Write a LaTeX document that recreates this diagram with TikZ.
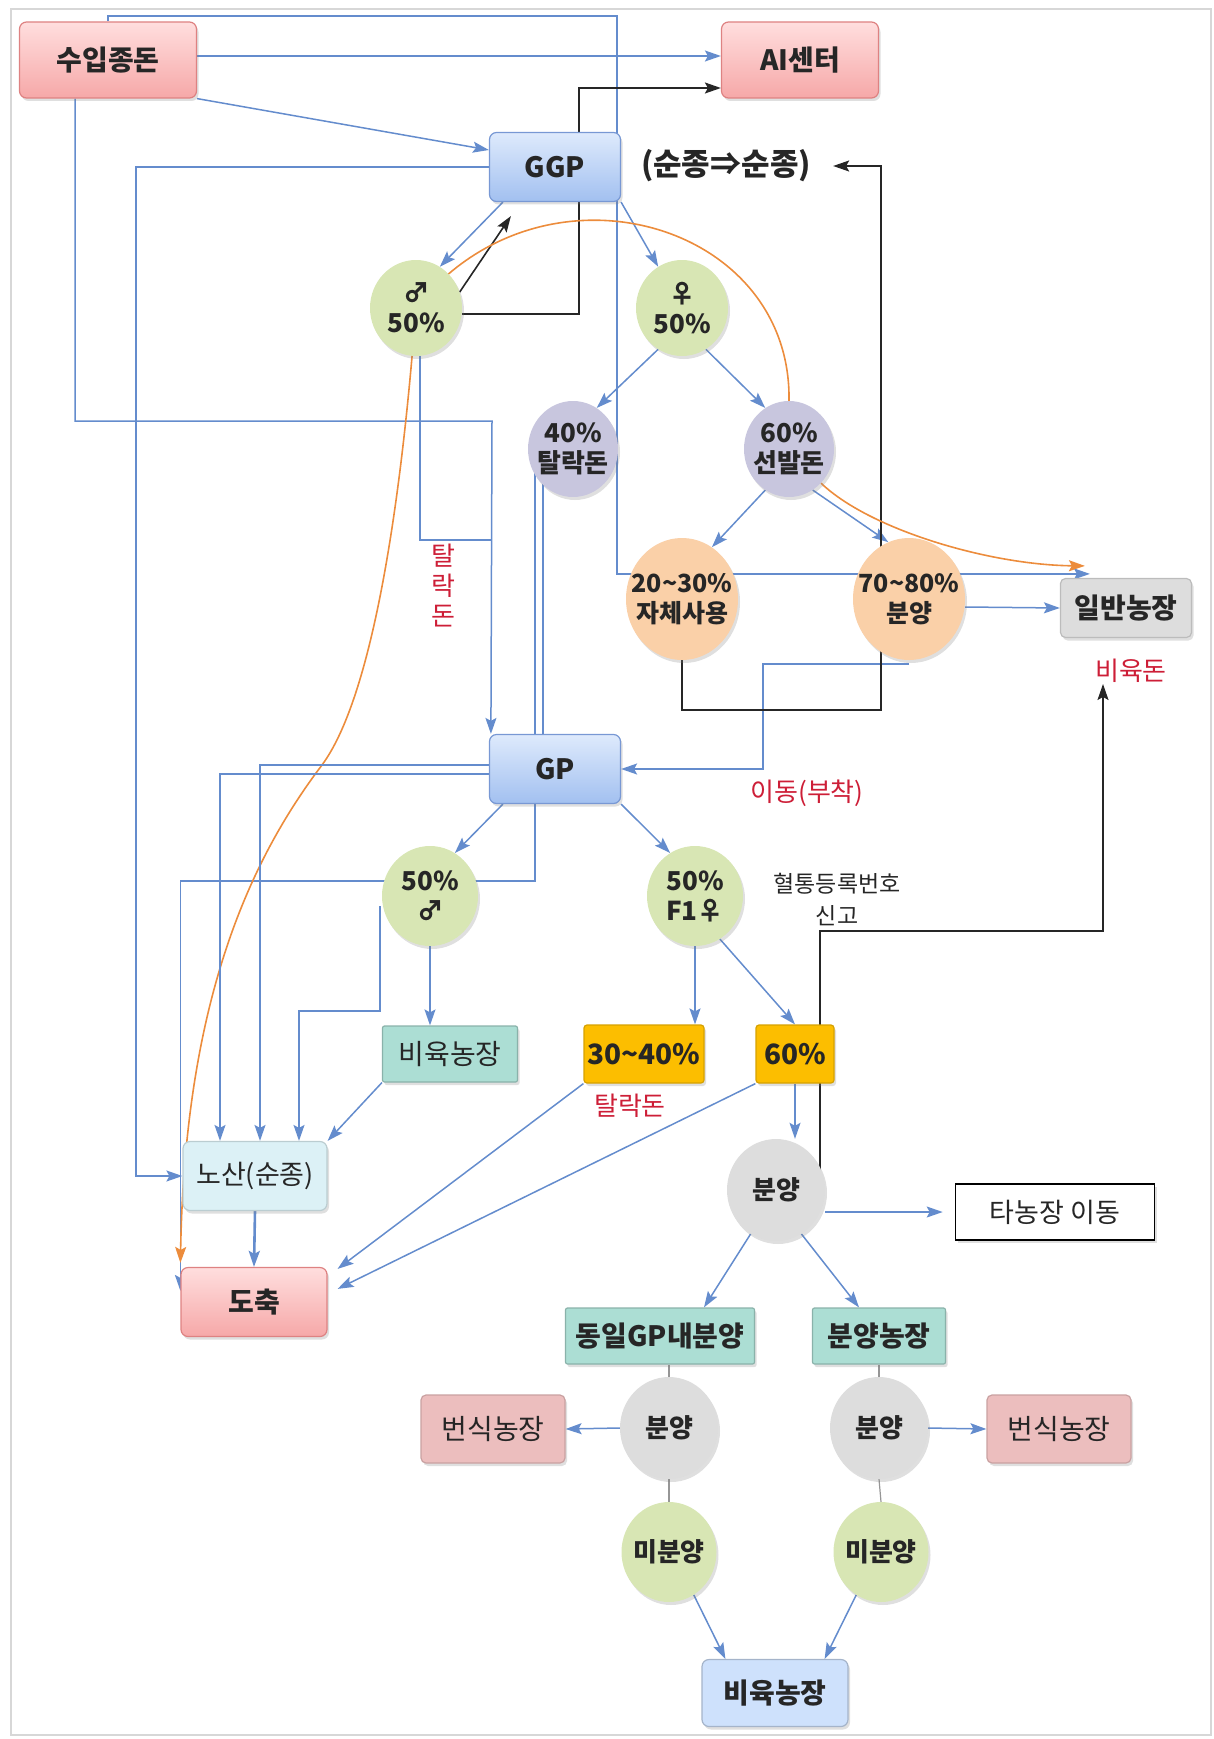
\documentclass[tikz,border=0pt]{standalone}
\usepackage{fontspec}
\setmainfont{Noto Sans CJK KR}
\usepackage{tikz}
\usetikzlibrary{shapes.geometric, arrows, arrows.meta, shadows, backgrounds}

\definecolor{pinktop}{RGB}{255,222,222}
\definecolor{pinkbot}{RGB}{246,168,168}
\definecolor{pinkedge}{RGB}{222,130,130}
\definecolor{bluetop}{RGB}{222,234,252}
\definecolor{bluebot}{RGB}{162,192,240}
\definecolor{blueedge}{RGB}{120,152,212}
\definecolor{greenfill}{RGB}{216,230,180}
\definecolor{purplefill}{RGB}{200,198,222}
\definecolor{peachfill}{RGB}{250,208,168}
\definecolor{grayfill}{RGB}{221,221,221}
\definecolor{tealfill}{RGB}{172,222,212}
\definecolor{cyanfill}{RGB}{220,241,246}
\definecolor{goldfill}{RGB}{252,190,0}
\definecolor{breedfill}{RGB}{236,190,190}
\definecolor{lightblue}{RGB}{206,225,252}
\definecolor{lineblue}{RGB}{100,140,205}
\definecolor{lineorange}{RGB}{236,140,60}
\definecolor{linegray}{RGB}{150,150,150}
\definecolor{redtext}{RGB}{205,30,55}
\definecolor{framegray}{RGB}{215,215,215}

\begin{document}
\begin{tikzpicture}[x=1pt, y=-1pt]
    % Define styles
    \tikzstyle{nodetext} = [font=\bfseries\fontsize{28}{32}\selectfont, text=black!85, align=center, inner sep=2pt]
    \tikzstyle{boxbase} = [nodetext, rectangle, rounded corners=7pt, line width=1.2pt, minimum width=146pt, minimum height=69pt, drop shadow={shadow xshift=2pt, shadow yshift=-3pt, opacity=0.25}]
    \tikzstyle{redbox} = [boxbase, draw=pinkedge, top color=pinktop, bottom color=pinkbot]
    \tikzstyle{bluebox} = [boxbase, draw=blueedge, top color=bluetop, bottom color=bluebot, minimum width=131pt]
    \tikzstyle{tealbox} = [boxbase, rounded corners=2pt, draw=tealfill!80!black, fill=tealfill, minimum height=56pt]
    \tikzstyle{goldbox} = [boxbase, rounded corners=3pt, draw=goldfill!85!black, fill=goldfill, minimum height=58pt]
    \tikzstyle{graybox} = [boxbase, rounded corners=5pt, draw=grayfill!85!black, fill=grayfill, minimum width=131pt, minimum height=59pt]
    \tikzstyle{cyanbox} = [boxbase, draw=cyanfill!85!black, fill=cyanfill, minimum width=144pt, font=\fontsize{27}{32}\selectfont]
    \tikzstyle{breedbox} = [boxbase, rounded corners=5pt, draw=breedfill!85!black, fill=breedfill, minimum width=144pt, minimum height=68pt, font=\fontsize{28}{32}\selectfont]
    \tikzstyle{lightbox} = [boxbase, draw=lightblue!80!black, fill=lightblue, minimum height=67pt]
    \tikzstyle{whitebox} = [boxbase, rounded corners=0pt, draw=black, line width=1.6pt, fill=white, minimum width=199pt, minimum height=56pt, font=\fontsize{27}{32}\selectfont]
    \tikzstyle{circbase} = [nodetext, ellipse, inner xsep=-12pt, inner ysep=-4pt, font=\bfseries\fontsize{26}{30}\selectfont, drop shadow={shadow xshift=2pt, shadow yshift=-3pt, opacity=0.25}]
    \tikzstyle{greencirc} = [circbase, fill=greenfill, minimum width=92pt, minimum height=96pt]
    \tikzstyle{purplecirc} = [circbase, fill=purplefill, minimum width=90pt, minimum height=96pt]
    \tikzstyle{peachcirc} = [circbase, fill=peachfill, inner xsep=-16pt, minimum width=112pt, minimum height=122pt, font=\bfseries\fontsize{25}{30}\selectfont]
    \tikzstyle{graycirc} = [circbase, fill=grayfill, minimum width=98pt, minimum height=102pt]
    \tikzstyle{redlabel} = [font=\fontsize{26}{30}\selectfont, text=redtext, align=center, inner sep=1pt]
    \tikzstyle{arrow} = [-{Stealth[length=16pt, width=11pt, inset=3pt]}, line width=1.5pt, draw=lineblue]
    \tikzstyle{plainline} = [line width=1.5pt, draw=lineblue]
    \tikzstyle{thinline} = [line width=1.2pt, draw=linegray]
    \tikzstyle{blackarrow} = [-{Stealth[length=16pt, width=11pt, inset=3pt]}, line width=1.6pt, draw=black!85]
    \tikzstyle{orangearrow} = [-{Stealth[length=16pt, width=11pt, inset=3pt]}, line width=1.6pt, draw=lineorange]

    \useasboundingbox (0,0) rectangle (1214,1739);

    % Nodes
    \node (imp) [redbox, minimum width=177pt, minimum height=76pt] at (108,60) {수입종돈};
    \node (ai) [redbox, minimum width=157pt, minimum height=76pt] at (800,60) {AI센터};
    \node (ggp) [bluebox] at (555,167) {GGP};
    \node (pure) [nodetext, font=\bfseries\fontsize{31}{36}\selectfont] at (726,166) {(순종⇒순종)};
    \node (m1) [greencirc] at (416,308) {♂\\50\%};
    \node (f1) [greencirc] at (682,308) {♀\\50\%};
    \node (cull1) [purplecirc] at (573,449) {40\%\\탈락돈};
    \node (sel) [purplecirc] at (789,449) {60\%\\선발돈};
    \node (own) [peachcirc] at (682,599) {20\textasciitilde30\%\\자체사용};
    \node (sale1) [peachcirc] at (909,599) {70\textasciitilde80\%\\분양};
    \node (gen) [graybox] at (1126,608) {일반농장};
    \node (fatlbl) [redlabel] at (1131,671) {비육돈};
    \node (culllbl) [redlabel] at (443,585) {탈\\락\\돈};
    \node (gp) [bluebox] at (555,769) {GP};
    \node (movelbl) [redlabel] at (807,793) {이동(부착)};
    \node (m2) [greencirc, minimum width=96pt, minimum height=100pt] at (430,896) {50\%\\♂};
    \node (f2) [greencirc, minimum width=96pt, minimum height=100pt] at (695,896) {50\%\\F1♀};
    \node (reg) [nodetext, font=\fontsize{23}{32}\selectfont] at (837,900) {혈통등록번호\\신고};
    \node (fat1) [tealbox, minimum width=135pt, font=\fontsize{28}{32}\selectfont] at (450,1054) {비육농장};
    \node (p3040) [goldbox, minimum width=120pt] at (644,1054) {30\textasciitilde40\%};
    \node (p60) [goldbox, minimum width=78pt] at (795,1054) {60\%};
    \node (cull2) [redlabel] at (630,1106) {탈락돈};
    \node (old) [cyanbox] at (255,1176) {노산(순종)};
    \node (slaughter) [redbox] at (254,1302) {도축};
    \node (sale2) [graycirc] at (776,1190) {분양};
    \node (other) [whitebox] at (1055,1212) {타농장 이동};
    \node (same) [tealbox, minimum width=189pt] at (660,1336) {동일GP내분양};
    \node (salefarm) [tealbox, minimum width=133pt] at (879,1336) {분양농장};
    \node (sale3) [graycirc] at (669,1428) {분양};
    \node (sale4) [graycirc] at (879,1428) {분양};
    \node (breed1) [breedbox] at (493,1429) {번식농장};
    \node (breed2) [breedbox] at (1059,1429) {번식농장};
    \node (uns1) [greencirc, minimum width=95pt, minimum height=100pt] at (669,1552) {미분양};
    \node (uns2) [greencirc, minimum width=95pt, minimum height=100pt] at (881,1552) {미분양};
    \node (fat2) [lightbox] at (775,1693) {비육농장};

    % Arrows
    \begin{scope}[on background layer]
    \draw [framegray, line width=1.5pt] (11,9) rectangle (1211,1735);

    \draw [arrow] ([yshift=4pt]imp.east) -- ([yshift=4pt]ai.west);
    \draw [arrow] (imp.south east) -- ([yshift=17pt]ggp.west);
    \draw [arrow] ([xshift=-33pt]imp.south) |- (492,421) -- ([xshift=2pt]gp.north west);
    \draw [arrow] (ggp.west) -- (136,167) |- (old.west);
    \draw [arrow] (imp.north) |- (617,16) |- ([xshift=30pt,yshift=4pt]gen.north west);
    \draw [arrow] ([yshift=-8pt]sale1.east) -- (gen.west);

    \draw [arrow] ([xshift=14pt]ggp.south west) -- (m1.60);
    \draw [arrow] (ggp.south east) -- (f1.120);
    \draw [arrow] (f1.240) -- (cull1.60);
    \draw [arrow] (f1.300) -- (sel.120);
    \draw [arrow] (sel.240) -- (own.60);
    \draw [arrow] (sel.300) -- (sale1.110);
    \draw [plainline] ([xshift=4pt]m1.south) |- (492,540);
    \draw [arrow] ([xshift=-38pt]cull1.center) -- (535,881) -| ([yshift=-24pt]slaughter.north west);
    \draw [plainline] ([xshift=-30pt]cull1.center) -- ([xshift=-30pt]cull1.center |- gp.north);
    \draw [arrow] ([yshift=-4pt]sale1.south) -| (763,769) -- (gp.east);

    \draw [blackarrow] (m1.20) -- ([xshift=22pt,yshift=-14pt]ggp.south west);
    \draw [blackarrow] ([yshift=-6pt]m1.east) -- (579,314) |- ([yshift=-28pt]ai.west);
    \draw [blackarrow] (own.south) |- (881,710) |- ([xshift=20pt]pure.east);
    \draw [blackarrow] ([xshift=44pt]sale2.center) |- (1103,931) -- ([xshift=-28pt]fatlbl.south);

    \draw [orangearrow] (sel.north) .. controls (792,220) and (540,150) .. (m1.center) .. controls (400,520) and (370,700) .. (322,765) .. controls (250,860) and (185,1000) .. ([yshift=4pt]slaughter.north west);
    \draw [orangearrow] (sel.south east) .. controls (870,530) and (990,565) .. ([xshift=25pt,yshift=12pt]gen.north west);

    \draw [arrow] ([yshift=4pt]gp.west) -| ([xshift=5pt]old.north);
    \draw [arrow] ([yshift=-5pt]gp.west) -| ([xshift=-35pt]old.north);
    \draw [arrow] ([xshift=-50pt,yshift=-10pt]m2.center) -- (380,1011) -- (299,1011) -- ([xshift=44pt]old.north);
    \draw [arrow] ([xshift=14pt]gp.south west) -- (m2.60);
    \draw [arrow] (gp.south east) -- (f2.120);
    \draw [arrow] (m2.south) -- (m2.south |- fat1.north);
    \draw [arrow] (fat1.south west) -- (old.north east);
    \draw [arrow, line width=2.6pt] (old.south) -- (slaughter.north);
    \draw [arrow] (f2.south) -- (f2.south |- p3040.north);
    \draw [arrow] (f2.300) -- (p60.north);
    \draw [arrow] (p3040.south west) -- ([xshift=10pt,yshift=-2pt]slaughter.north east);
    \draw [arrow] (p60.south west) -- ([xshift=10pt,yshift=-22pt]slaughter.north east);
    \draw [arrow] (p60.south) -- (p60.south |- sale2.north);

    \draw [arrow] (sale2.east |- other.west) -- ([xshift=-12pt]other.west);
    \draw [arrow] (sale2.240) -- ([xshift=44pt]same.north);
    \draw [arrow] (sale2.300) -- ([xshift=-20pt]salefarm.north);
    \draw [thinline] (sale3.north |- same.south) -- (sale3.north);
    \draw [thinline] (sale3.south) -- (uns1.north);
    \draw [thinline] (sale4.north |- salefarm.south) -- (sale4.north);
    \draw [thinline] (sale4.south) -- (uns2.north);
    \draw [arrow] (sale3.west) -- (breed1.east);
    \draw [arrow] (sale4.east) -- (breed2.west);
    \draw [arrow] (uns1.300) -- ([xshift=24pt]fat2.north west);
    \draw [arrow] (uns2.240) -- ([xshift=-24pt]fat2.north east);
    \end{scope}
\end{tikzpicture}
\end{document}
